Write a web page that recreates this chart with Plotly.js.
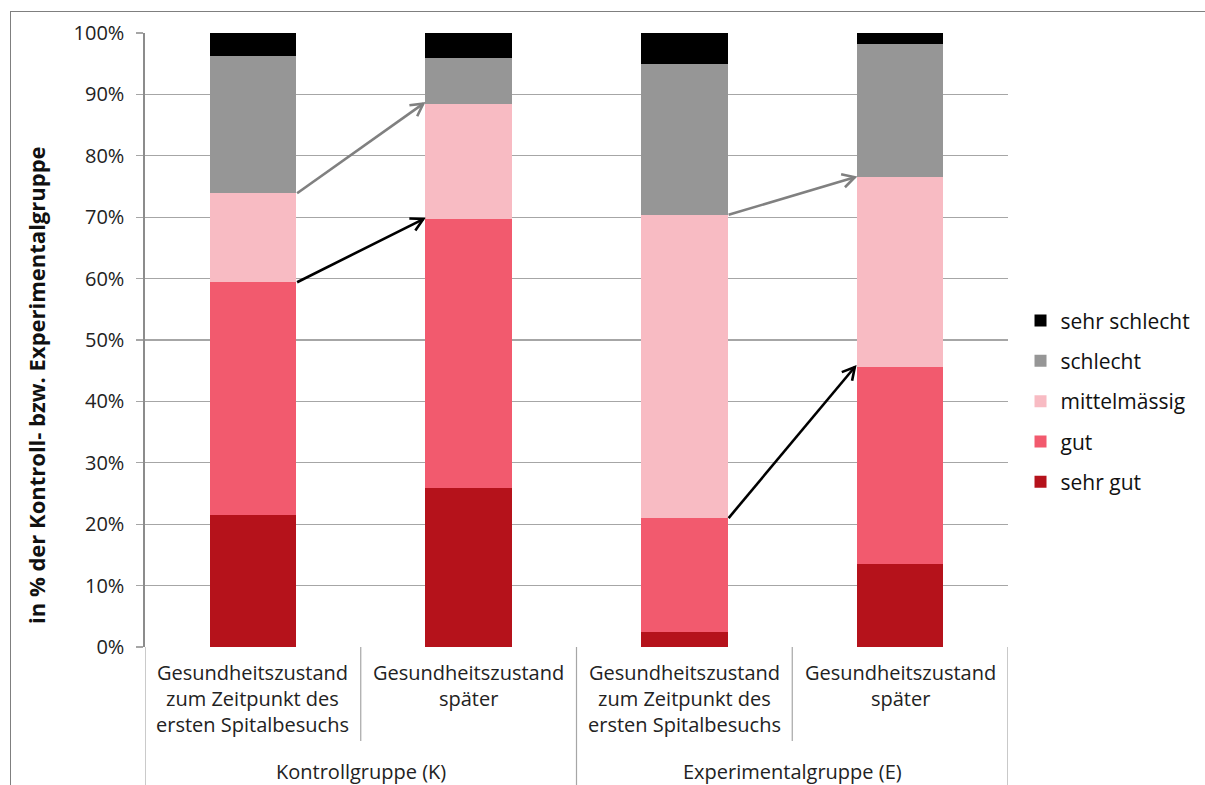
<!DOCTYPE html>
<html>
<head>
<meta charset="utf-8">
<script src="https://cdn.plot.ly/plotly-3.0.1.min.js"></script>
<style>
html,body{margin:0;padding:0;background:#fff;}
#wrap{position:relative;width:1205px;height:785px;overflow:hidden;}
#frame{position:absolute;left:10px;top:11px;width:1300px;height:900px;border-left:1.5px solid #7f7f7f;border-top:1.5px solid #7f7f7f;pointer-events:none;}
#chart{position:absolute;left:0;top:0;width:1205px;height:785px;}
</style>
</head>
<body>
<div id="wrap"><div id="frame"></div><div id="chart"></div></div>
<script>
// ---- data ----
const categories = [
  "Gesundheitszustand<br>zum Zeitpunkt des<br>ersten Spitalbesuchs",
  "Gesundheitszustand<br>später",
  "Gesundheitszustand<br>zum Zeitpunkt des<br>ersten Spitalbesuchs",
  "Gesundheitszustand<br>später"
];
const groups = ["Kontrollgruppe (K)", "Experimentalgruppe (E)"];
const seriesNames = ["sehr gut", "gut", "mittelmässig", "schlecht", "sehr schlecht"];
const sehrGut      = [21.5, 25.9,  2.4, 13.5];
const gut          = [37.9, 43.8, 18.6, 32.1];
const mittelmaessig= [14.5, 18.8, 49.4, 30.9];
const schlecht     = [22.4,  7.5, 24.6, 21.7];
const sehrSchlecht = [ 3.7,  4.0,  5.1,  1.8];
const yTicks = [0,10,20,30,40,50,60,70,80,90,100];
const yTickLabels = yTicks.map(v => v + "%");
const yTitle = "in % der Kontroll- bzw. Experimentalgruppe";

// ---- style ----
const colors = ["#b5121b", "#f25a6e", "#f8bbc3", "#969696", "#000000"];
const FONT = "Open Sans, Noto Sans, sans-serif";
const seriesValues = [sehrGut, gut, mittelmaessig, schlecht, sehrSchlecht];
const xIdx = categories.map((c, i) => i);
const barW = 0.4;

const traces = seriesValues.map((vals, k) => ({
  type: "bar",
  name: seriesNames[k],
  x: xIdx,
  y: vals,
  width: barW,
  marker: {color: colors[k], line: {width: 0}},
  legendgroup: "g" + k,
  legendrank: 100 - k,
  hoverinfo: "name+y"
}));

function cumTop(i, uptoK) {
  let s = 0;
  for (let k = 0; k <= uptoK; k++) s += seriesValues[k][i];
  return s;
}

const M = {l: 145, r: 197, t: 33, b: 138, autoexpand: false};
const plotW = 1205 - M.l - M.r, plotH = 785 - M.t - M.b;
const xRange = [-0.5, categories.length - 0.5];
const pxPerX = plotW / (xRange[1] - xRange[0]);
const pxPerY = plotH / 100;

const shapes = [];
const annotations = [];

categories.forEach((c, i) => {
  annotations.push({
    xref: "x", yref: "paper", x: i, y: 0, yanchor: "top", yshift: -10,
    text: c, showarrow: false, align: "center",
    font: {family: FONT, size: 20, color: "#222"}
  });
});
groups.forEach((g, j) => {
  annotations.push({
    xref: "x", yref: "paper", x: j * 2 + 0.5, y: 0, yanchor: "middle", yshift: -124,
    text: g, showarrow: false, font: {family: FONT, size: 20, color: "#222"}
  });
});
// y-axis title
annotations.push({
  xref: "paper", yref: "paper", x: -109 / plotW, y: 262 / plotH,
  xanchor: "center", yanchor: "middle", textangle: -90, showarrow: false,
  text: "<b>" + yTitle + "</b>", font: {family: FONT, size: 22, color: "#111"}
});
for (let b = 0; b <= categories.length; b++) {
  const outer = (b % 2 === 0);
  shapes.push({
    type: "line", xref: "x", yref: "paper",
    x0: b - 0.5, x1: b - 0.5, y0: 0, y1: outer ? -(M.b + 5) / plotH : -94 / plotH,
    line: {color: "#a6a6a6", width: 1.2}
  });
}

function addArrow(iFrom, kLevel, color) {
  const x0 = iFrom + barW / 2 + 0.005, y0 = cumTop(iFrom, kLevel);
  const x1 = iFrom + 1 - barW / 2 - 0.01, y1 = cumTop(iFrom + 1, kLevel);
  shapes.push({type: "line", xref: "x", yref: "y", x0: x0, y0: y0, x1: x1, y1: y1,
    line: {color: color, width: 2.6}});
  const dx = (x1 - x0) * pxPerX, dy = -(y1 - y0) * pxPerY;
  const len = Math.hypot(dx, dy), ux = dx / len, uy = dy / len;
  const L = 14, a = 0.5;
  const c = Math.cos(a), s = Math.sin(a);
  const p1 = [-L * (ux * c - uy * s), -L * (uy * c + ux * s)];
  const p2 = [-L * (ux * c + uy * s), -L * (uy * c - ux * s)];
  const path = `M${p1[0].toFixed(2)},${(-p1[1]).toFixed(2)} L0,0 L${p2[0].toFixed(2)},${(-p2[1]).toFixed(2)}`;
  shapes.push({type: "path", xref: "x", yref: "y", xsizemode: "pixel", ysizemode: "pixel",
    xanchor: x1, yanchor: y1, path: path, line: {color: color, width: 2.6}});
}
addArrow(0, 2, "#808080");
addArrow(0, 1, "#000000");
addArrow(2, 2, "#808080");
addArrow(2, 1, "#000000");

const layout = {
  width: 1205, height: 785,
  margin: M,
  paper_bgcolor: "rgba(0,0,0,0)", plot_bgcolor: "rgba(0,0,0,0)",
  barmode: "stack",
  showlegend: true,
  legend: {
    x: 1.0145, xanchor: "left", y: 0.40, yanchor: "middle",
    traceorder: "grouped", tracegroupgap: 10,
    font: {family: FONT, size: 21, color: "#111"},
    itemwidth: 30
  },
  xaxis: {
    range: xRange, showticklabels: false, showgrid: false, zeroline: false,
    showline: false, ticks: "", fixedrange: true
  },
  yaxis: {
    range: [0, 100], tickvals: yTicks, ticktext: yTickLabels,
    showgrid: true, gridcolor: "#a6a6a6", gridwidth: 1.2,
    showline: true, linecolor: "#8c8c8c", linewidth: 1.6,
    ticks: "outside", ticklen: 7, tickcolor: "#a6a6a6", tickwidth: 1.2,
    ticklabelstandoff: 8,
    tickfont: {family: FONT, size: 20, color: "#222"},
    zeroline: false
  },
  shapes: shapes,
  annotations: annotations
};

Plotly.newPlot("chart", traces, layout, {displayModeBar: false, staticPlot: true});
</script>
</body>
</html>
